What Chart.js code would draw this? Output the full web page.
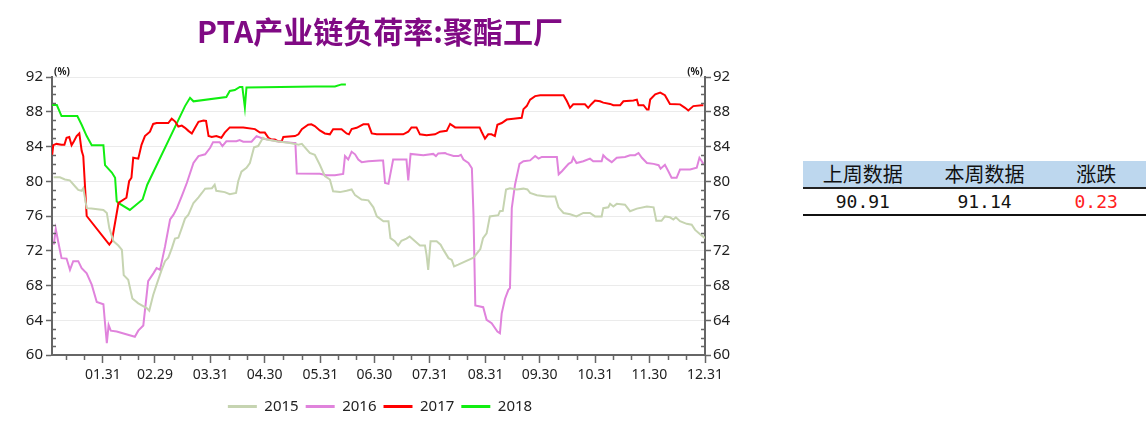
<!DOCTYPE html>
<html>
<head>
<meta charset="utf-8">
<title>PTA产业链负荷率:聚酯工厂</title>
<script src="https://cdn.jsdelivr.net/npm/chart.js@4.4.1/dist/chart.umd.min.js"></script>
<style>
  body { margin: 0; background: #fff; width: 1146px; height: 441px; overflow: hidden; position: relative; }
  #chart { position: absolute; left: 0; top: 0; }
  #summary { position: absolute; left: 803px; top: 161px; border-collapse: collapse; }
  #summary th { background: #bdd7ee; height: 26px; padding: 0; font: 20px "Noto Sans CJK SC", sans-serif; font-weight: normal; color: #111; border-bottom: 2px solid #222; line-height: 26px; }
  #summary td { height: 25px; padding: 0; text-align: center; font: 18px "DejaVu Sans Mono", monospace; color: #111; border-bottom: 2px solid #111; }
  #summary td.up { color: #ff2020; }
</style>
</head>
<body>
<canvas id="chart" width="760" height="441"></canvas>
<table id="summary">
  <tr><th style="width:120px">上周数据</th><th style="width:124px">本周数据</th><th style="width:100px">涨跌</th></tr>
  <tr><td id="lastWeek"></td><td id="thisWeek"></td><td id="change" class="up"></td></tr>
</table>
<script>
// x 轴: 月末日序号(闰年) 与标签
const monthEndDays = [30, 59, 90, 120, 151, 181, 212, 243, 273, 304, 334, 365];
const monthEndLabels = ['01.31', '02.29', '03.31', '04.30', '05.31', '06.30', '07.31', '08.31', '09.30', '10.31', '11.30', '12.31'];
const yTicks = [60, 64, 68, 72, 76, 80, 84, 88, 92];

// 2015
const days2015 = [2.6, 6.1, 8.9, 11.6, 14.6, 16.3, 18.2, 19.1, 21.0, 23.6,
  30.3, 32.2, 33.6, 35.9, 38.6, 40.6, 41.6, 44.1, 46.4, 49.7,
  54.4, 55.8, 58.0, 59.9, 62.7, 64.6, 66.4, 68.4, 70.1, 72.0,
  73.9, 75.7, 77.6, 80.4, 83.2, 85.1, 86.9, 90.7, 92.2, 93.1,
  97.8, 100.6, 104.1, 105.3, 107.1, 109.9, 111.8, 114.1, 116.4, 119.1,
  121.1, 126.7, 134.1, 136.9, 138.8, 140.7, 145.1, 147.9, 150.7, 153.5,
  156.3, 158.1, 161.9, 165.6, 168.4, 170.3, 173.9, 177.7, 180.5, 182.4,
  186.1, 188.9, 190.0, 192.4, 194.3, 196.1, 198.9, 200.7, 203.7, 206.4,
  209.2, 210.1, 211.0, 212.3, 215.7, 217.9, 219.5, 222.3, 224.1, 225.4,
  227.7, 236.2, 238.1, 240.0, 241.5, 243.5, 245.3, 250.0, 250.9, 252.5,
  254.3, 256.5, 260.3, 264.0, 266.2, 267.7, 271.5, 277.0, 281.7, 283.5,
  286.3, 290.0, 293.5, 297.3, 301.0, 303.8, 307.5, 308.4, 311.2, 312.2,
  314.0, 315.9, 320.5, 323.3, 327.1, 332.7, 336.4, 337.9, 340.8, 342.7,
  345.5, 347.4, 348.8, 351.1, 354.8, 357.6, 359.5, 362.3, 365.0];
const vals2015 = [80.45, 80.45, 80.2, 80.1, 79.4, 79.0, 78.9, 79.2, 76.9, 76.85,
  76.7, 76.35, 74.6, 73.1, 72.6, 72.1, 69.2, 68.65, 66.5, 65.95,
  65.4, 65.1, 66.9, 68.1, 69.8, 70.8, 71.2, 72.3, 73.4, 73.5,
  74.6, 75.7, 76.15, 77.5, 78.15, 78.65, 79.15, 79.2, 79.6, 78.9,
  78.75, 78.5, 78.65, 80.0, 81.1, 81.55, 82.1, 83.9, 84.05, 85.0,
  84.8, 84.6, 84.4, 84.3, 84.2, 84.3, 83.25, 83.05, 81.9, 80.6,
  80.2, 78.85, 78.75, 78.9, 79.05, 78.4, 77.9, 77.8, 77.0, 75.95,
  75.4, 75.4, 73.45, 73.1, 72.6, 73.15, 73.4, 73.65, 73.1, 72.6,
  72.6, 71.5, 69.8, 73.1, 73.1, 72.7, 72.1, 71.15, 70.95, 70.2,
  70.4, 71.2, 71.7, 72.2, 73.45, 74.0, 75.95, 76.1, 76.55, 76.6,
  79.05, 79.2, 79.05, 79.15, 79.05, 78.65, 78.4, 78.25, 78.25, 77.0,
  76.35, 76.2, 75.95, 76.35, 76.35, 75.95, 75.95, 76.9, 77.0, 77.4,
  77.1, 77.4, 77.3, 76.55, 76.85, 77.1, 77.0, 75.45, 75.45, 75.95,
  75.85, 75.6, 75.85, 75.4, 75.1, 75.0, 74.4, 73.9, 73.45];

// 2016
const days2016 = [2.7, 3.8, 5.1, 7.0, 9.8, 11.7, 13.5, 16.3, 18.2, 21.0,
  23.8, 26.6, 30.3, 31.2, 32.2, 33.2, 34.4, 37.7, 47.8, 49.7,
  52.5, 55.2, 58.1, 59.9, 61.8, 64.6, 67.4, 69.3, 71.2, 73.9,
  76.7, 80.4, 83.2, 86.9, 89.7, 91.3, 95.0, 96.5, 98.7, 104.3,
  106.1, 108.1, 112.7, 115.5, 119.2, 122.0, 126.7, 136.0, 137.1, 137.9,
  150.7, 154.4, 159.1, 163.7, 164.7, 166.5, 168.4, 170.3, 172.1, 174.0,
  177.7, 184.2, 185.9, 187.0, 188.9, 191.5, 198.9, 199.9, 201.2, 208.3,
  213.8, 215.3, 216.6, 220.4, 221.3, 225.1, 227.8, 229.2, 230.6, 233.4,
  235.3, 236.2, 237.2, 241.6, 243.5, 246.3, 249.5, 250.9, 251.9, 253.7,
  255.6, 256.5, 257.5, 259.3, 261.8, 264.0, 267.7, 270.5, 272.4, 274.2,
  282.6, 283.6, 285.4, 289.1, 290.8, 291.7, 293.5, 297.3, 301.0, 302.8,
  307.5, 308.4, 310.3, 313.1, 315.9, 320.5, 323.3, 326.1, 328.0, 329.9,
  332.7, 336.4, 339.2, 340.3, 342.7, 344.6, 346.4, 349.2, 351.1, 356.7,
  360.4, 361.9, 363.2, 364.1];
const vals2016 = [72.7, 74.5, 73.1, 71.15, 71.1, 69.8, 70.8, 70.8, 70.0, 69.4,
  68.1, 66.1, 65.85, 63.65, 61.35, 63.45, 62.8, 62.7, 62.1, 62.8,
  63.4, 68.5, 69.4, 70.0, 69.8, 72.5, 75.6, 76.15, 76.9, 78.3,
  79.8, 82.1, 82.9, 83.1, 83.85, 84.5, 84.5, 84.05, 84.6, 84.6,
  84.75, 84.55, 84.55, 85.2, 84.9, 84.8, 84.6, 84.4, 84.4, 80.9,
  80.85, 80.7, 80.7, 80.85, 82.9, 82.5, 83.4, 83.1, 82.5, 82.2,
  82.3, 82.4, 82.4, 79.8, 79.7, 82.5, 82.5, 80.1, 83.15, 83.0,
  83.15, 82.9, 83.2, 83.25, 83.15, 82.9, 82.9, 83.05, 82.5, 82.1,
  81.5, 76.15, 65.7, 65.5, 64.05, 63.65, 62.7, 62.5, 64.8, 66.45,
  67.5, 67.7, 76.9, 79.6, 82.0, 82.3, 82.4, 82.9, 82.6, 82.8,
  82.8, 80.8, 81.15, 82.0, 82.2, 82.75, 82.1, 82.3, 82.6, 82.3,
  82.3, 83.0, 82.6, 82.2, 82.7, 82.8, 83.0, 83.0, 83.25, 82.7,
  82.1, 82.0, 81.85, 81.45, 81.9, 81.15, 80.4, 80.4, 81.35, 81.35,
  81.55, 82.7, 82.3, 82.0];

// 2017
const days2017 = [1.7, 2.4, 4.2, 7.0, 8.6, 9.8, 11.3, 12.6, 13.9, 15.4,
  16.9, 18.2, 19.1, 21.0, 33.6, 35.0, 38.7, 43.1, 44.6, 45.9,
  46.9, 49.7, 51.5, 53.4, 56.2, 58.0, 59.9, 66.4, 68.3, 70.1,
  72.0, 73.9, 75.7, 77.6, 79.5, 81.3, 83.2, 86.0, 87.4, 88.8,
  90.6, 93.1, 95.9, 97.8, 100.6, 108.1, 114.6, 117.4, 120.1, 122.1,
  123.9, 125.7, 127.6, 129.5, 130.4, 136.9, 138.8, 140.7, 144.2, 146.0,
  147.9, 150.7, 153.5, 156.3, 158.1, 162.8, 165.6, 166.9, 168.4, 171.2,
  173.0, 174.9, 177.7, 179.6, 182.4, 197.1, 199.9, 201.7, 204.5, 206.4,
  210.1, 214.8, 217.6, 221.3, 223.2, 226.0, 239.6, 240.7, 242.6, 244.4,
  246.2, 248.1, 249.5, 251.9, 254.7, 258.4, 263.0, 264.0, 265.8, 267.7,
  270.5, 273.3, 286.3, 288.2, 289.9, 291.7, 298.2, 300.0, 301.9, 303.8,
  306.6, 308.4, 312.2, 314.0, 317.8, 319.6, 325.2, 327.1, 328.0, 330.8,
  332.7, 333.6, 334.5, 337.3, 340.1, 342.7, 345.5, 351.1, 353.9, 355.7,
  358.5, 363.2, 364.1];
const vals2017 = [82.9, 84.15, 84.3, 84.2, 84.2, 85.0, 85.1, 84.15, 84.6, 85.2,
  85.5, 83.5, 82.9, 76.0, 72.7, 73.1, 77.5, 78.1, 80.0, 80.4,
  82.7, 82.6, 84.2, 85.2, 85.7, 86.6, 86.7, 86.7, 87.2, 86.9,
  86.3, 86.4, 86.15, 85.8, 85.5, 86.15, 86.85, 87.0, 86.95, 85.2,
  85.1, 85.2, 85.0, 85.6, 86.2, 86.2, 86.0, 85.6, 85.6, 85.0,
  84.8, 84.8, 84.6, 84.6, 85.1, 85.2, 85.4, 86.0, 86.5, 86.55,
  86.35, 85.85, 85.5, 85.4, 86.0, 86.0, 85.5, 85.4, 86.0, 86.15,
  86.35, 86.55, 86.55, 85.5, 85.4, 85.4, 85.7, 86.2, 86.2, 85.4,
  85.3, 85.4, 85.7, 85.8, 86.6, 86.2, 86.2, 85.7, 84.9, 85.4,
  85.4, 85.2, 86.5, 86.7, 87.1, 87.2, 87.3, 88.3, 88.65, 89.4,
  89.8, 89.9, 89.9, 89.2, 88.45, 88.85, 88.85, 88.45, 88.9, 89.3,
  89.2, 89.05, 88.9, 88.75, 88.75, 89.2, 89.3, 89.4, 88.75, 88.75,
  88.25, 88.25, 89.4, 90.0, 90.2, 89.9, 88.9, 88.85, 88.45, 88.15,
  88.65, 88.75, 88.75];

// 2018
const days2018 = [1.7, 4.4, 7.0, 15.8, 18.2, 21.0, 23.8, 30.3, 31.2, 35.0,
  36.8, 37.7, 38.6, 45.0, 52.1, 54.7, 75.7, 78.5, 80.4, 98.7,
  100.6, 103.4, 106.2, 107.6, 109.0, 109.9, 147.9, 159.1, 162.8, 165.2];
const vals2018 = [88.77, 88.77, 87.5, 87.5, 86.5, 85.2, 84.15, 84.15, 81.85, 81.0,
  80.4, 77.7, 77.5, 76.7, 77.9, 79.6, 88.65, 89.6, 89.2, 89.7,
  90.4, 90.5, 90.85, 90.85, 88.5, 90.8, 90.9, 90.9, 91.15, 91.15];

const lastWeek = '90.91';
const thisWeek = '91.14';
const weekChange = '0.23';

const seriesNames = ['2015', '2016', '2017', '2018'];
const seriesColors = ['#c6d4b1', '#e083dc', '#ff0000', '#11ee11'];

document.getElementById('lastWeek').innerText = lastWeek;
document.getElementById('thisWeek').innerText = thisWeek;
document.getElementById('change').innerText = weekChange;

function toPoints(days, vals) {
    return days.map((d, i) => ({ x: d, y: vals[i] }));
}

// 副刻度 + (%) 单位
const axisExtras = {
    id: 'axisExtras',
    afterDraw(chart) {
        const { ctx, chartArea, scales } = chart;
        ctx.save();
        ctx.strokeStyle = '#666';
        ctx.lineWidth = 1.5;
        ctx.beginPath();
        let prev = -1;
        monthEndDays.forEach(d => {
            [1, 2].forEach(k => {
                const v = prev + (d - prev) * k / 3;
                if (v < scales.x.min) return;
                const px = Math.round(scales.x.getPixelForValue(v)) + 0.5;
                ctx.moveTo(px, chartArea.bottom);
                ctx.lineTo(px, chartArea.bottom + 5);
            });
            prev = d;
        });
        for (let v = yTicks[0] + 1; v < yTicks[yTicks.length - 1]; v++) {
            if (yTicks.includes(v)) continue;
            const py = Math.round(scales.y.getPixelForValue(v)) + 0.5;
            ctx.moveTo(chartArea.left, py);
            ctx.lineTo(chartArea.left + 4, py);
            ctx.moveTo(chartArea.right, py);
            ctx.lineTo(chartArea.right - 4, py);
        }
        ctx.stroke();

        ctx.fillStyle = '#222';
        ctx.font = 'bold 10px "Noto Sans", sans-serif';
        ctx.textBaseline = 'bottom';
        ctx.textAlign = 'left';
        ctx.fillText('(%)', chartArea.left + 2, chartArea.top);
        ctx.textAlign = 'right';
        ctx.fillText('(%)', chartArea.right - 2, chartArea.top);
        ctx.restore();
    }
};

Chart.defaults.font.family = '"Noto Sans", "Noto Sans CJK SC", sans-serif';
Chart.defaults.color = '#222';

new Chart(document.getElementById('chart'), {
    type: 'line',
    data: {
        datasets: [
            { label: seriesNames[0], data: toPoints(days2015, vals2015), borderColor: seriesColors[0], backgroundColor: seriesColors[0] },
            { label: seriesNames[1], data: toPoints(days2016, vals2016), borderColor: seriesColors[1], backgroundColor: seriesColors[1] },
            { label: seriesNames[2], data: toPoints(days2017, vals2017), borderColor: seriesColors[2], backgroundColor: seriesColors[2] },
            { label: seriesNames[3], data: toPoints(days2018, vals2018), borderColor: seriesColors[3], backgroundColor: seriesColors[3] }
        ]
    },
    options: {
        responsive: false,
        animation: false,
        elements: { point: { radius: 0 }, line: { borderWidth: 2, tension: 0 } },
        layout: { padding: { left: 0, right: 0, top: 0, bottom: 17 } },
        plugins: {
            tooltip: { enabled: false },
            title: {
                display: true,
                text: 'PTA产业链负荷率:聚酯工厂',
                color: '#800a84',
                font: { size: 30, weight: 'bold', family: '"Noto Sans CJK SC", sans-serif' },
                padding: { top: 14, bottom: 27 }
            },
            legend: {
                position: 'bottom',
                labels: {
                    usePointStyle: true, pointStyle: 'line', pointStyleWidth: 29, padding: 7, color: '#222', font: { size: 15 },
                    generateLabels: chart => Chart.defaults.plugins.legend.labels.generateLabels(chart).map(l => Object.assign(l, { lineWidth: 3 }))
                }
            }
        },
        scales: {
            x: {
                type: 'linear', min: 1.7, max: 365,
                afterBuildTicks: s => { s.ticks = monthEndDays.map(v => ({ value: v })); },
                afterFit: s => { s.height = 37; },
                ticks: { autoSkip: false, maxRotation: 0, padding: 4, color: '#222', font: { size: 14 }, callback: (v, i) => monthEndLabels[i] },
                grid: { drawOnChartArea: false, tickLength: 8, tickColor: '#666', tickWidth: 1.5 },
                border: { color: '#666', width: 2 }
            },
            y: {
                position: 'left', min: 60, max: 92,
                afterFit: s => { s.width = 52; },
                ticks: { stepSize: 4, padding: 3, color: '#222', font: { size: 15 } },
                grid: { color: '#ebebeb', tickColor: '#666', tickLength: 6, tickWidth: 1.5 },
                border: { color: '#666', width: 2 }
            },
            y2: {
                position: 'right', min: 60, max: 92,
                afterFit: s => { s.width = 55; },
                ticks: { stepSize: 4, padding: 2, color: '#222', font: { size: 15 } },
                grid: { drawOnChartArea: false, tickColor: '#666', tickLength: 6, tickWidth: 1.5 },
                border: { color: '#666', width: 2 }
            }
        }
    },
    plugins: [axisExtras]
});
</script>
</body>
</html>
